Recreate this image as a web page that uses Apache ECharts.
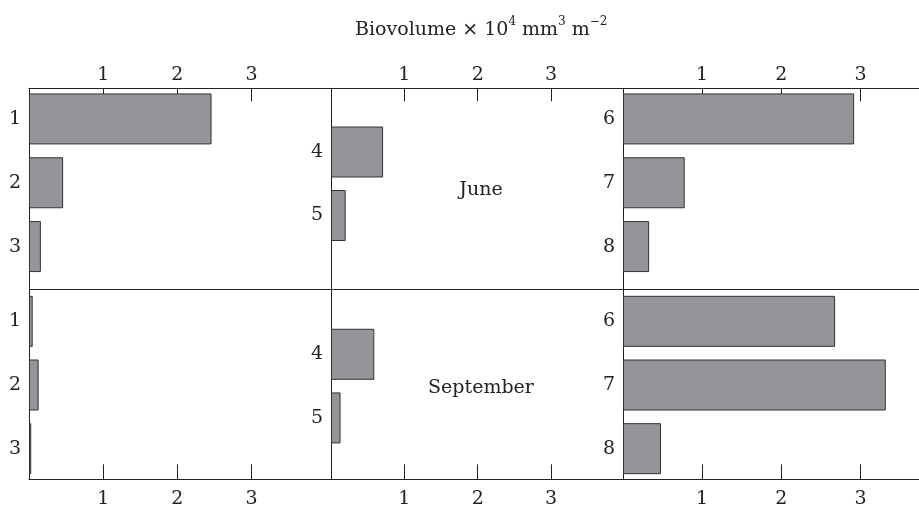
<!DOCTYPE html>
<html>
	<head>
		<meta charset="utf-8">
		<title></title>
		<style>
			html,body{margin:0;padding:0;background:#fff;}
			#main{
				width: 919px;
				height: 505px;
			}
		</style>
	</head>
	<body>
		<div id="main"></div>
		<script src="https://cdn.jsdelivr.net/npm/echarts@6.0.0/dist/echarts.min.js"></script>
		<script>
			// sites of each column (top to bottom)
			var sites1 = ['1', '2', '3'];
			var sites2 = ['4', '5'];
			var sites3 = ['6', '7', '8'];
			// biovolume x 10^4 mm3 m-2
			var june1 = [2.46, 0.46, 0.16];
			var june2 = [0.71, 0.20];
			var june3 = [2.92, 0.78, 0.33];
			var sept1 = [0.05, 0.13, 0.03];
			var sept2 = [0.59, 0.13];
			var sept3 = [2.68, 3.32, 0.48];
			var tickValues = [1, 2, 3];
			var months = ['June', 'September'];

			var font = 'DejaVu Serif';
			var ink = '#222';

			// layout of the three columns
			var cols = [
				{left: 29, width: 302, max: 4.07, sites: sites1, june: june1, sept: sept1},
				{left: 331, width: 292, max: 3.98, sites: sites2, june: june2, sept: sept2},
				{left: 623, width: 300, max: 3.79, sites: sites3, june: june3, sept: sept3}
			];

			var grid = [], xAxis = [], yAxis = [], series = [];
			var lbl = {fontFamily: font, fontSize: 19, color: ink};

			cols.forEach(function (c, i) {
				// frame of the column: top and bottom scales, left line, middle line
				var g = grid.length;
				grid.push({left: c.left, width: c.width, top: 88.3, height: 391, outerBoundsMode: 'none'});
				['top', 'bottom'].forEach(function (pos) {
					xAxis.push({
						type: 'value', gridIndex: g, position: pos, min: 0, max: c.max,
						axisLine: {show: true, lineStyle: {color: ink, width: 1}},
						axisTick: {show: true, inside: true, length: pos === 'top' ? 13 : 15,
							customValues: tickValues, lineStyle: {color: ink}},
						axisLabel: Object.assign({customValues: tickValues, margin: pos === 'top' ? 4 : 10}, lbl),
						splitLine: {show: false}
					});
				});
				yAxis.push({
					type: 'value', gridIndex: g, inverse: true, min: 0, max: 391, interval: 201,
					axisLine: {show: true, lineStyle: {color: ink, width: 1}},
					axisTick: {show: false}, axisLabel: {show: false},
					splitLine: {show: true, lineStyle: {color: ink, width: 1}}
				});

				// the two panels with bars
				var mid = i === 1;
				var cats = mid ? [''].concat(c.sites, ['']) : c.sites;
				[c.june, c.sept].forEach(function (vals, r) {
					var d = grid.length;
					var top = r === 0 ? (mid ? 88.5 : 87) : (mid ? 290.6 : 289.5);
					var h = r === 0 ? (mid ? 190.5 : 191.5) : 191;
					grid.push({left: c.left, width: c.width, top: top, height: h, outerBoundsMode: 'none'});
					xAxis.push({type: 'value', gridIndex: d, min: 0, max: c.max, show: false});
					yAxis.push({
						type: 'category', gridIndex: d, inverse: true, data: cats, boundaryGap: !mid,
						axisLine: {show: false}, axisTick: {show: false}, splitLine: {show: false},
						axisLabel: Object.assign({margin: 8, interval: 0}, lbl)
					});
					series.push({
						type: 'bar', name: months[r] + ' ' + (i + 1),
						xAxisIndex: xAxis.length - 1, yAxisIndex: yAxis.length - 1,
						data: mid ? [null].concat(vals, [null]) : vals,
						barWidth: 51, silent: true,
						itemStyle: {color: '#939598', borderColor: '#333', borderWidth: 1}
					});
				});
			});

			var mychart = echarts.init(document.getElementById('main'));
			var option = {
				animation: false,
				title: {
					text: '{b|Biovolume × 10}{s|4}{b| mm}{s|3}{b| m}{s|−2}',
					left: 350, top: 11,
					textStyle: {
						fontWeight: 'normal',
						rich: {
							b: {fontFamily: font, fontSize: 19, fontWeight: 'normal', color: ink, lineHeight: 24, verticalAlign: 'bottom'},
							s: {fontFamily: font, fontSize: 12, fontWeight: 'normal', color: ink, lineHeight: 12, verticalAlign: 'top'}
						}
					}
				},
				grid: grid,
				xAxis: xAxis,
				yAxis: yAxis,
				series: series,
				graphic: [
					{type: 'text', x: 481, y: 190, silent: true,
						style: {text: months[0], align: 'center', verticalAlign: 'middle', font: '19px ' + font, fill: ink}},
					{type: 'text', x: 481, y: 388, silent: true,
						style: {text: months[1], align: 'center', verticalAlign: 'middle', font: '19px ' + font, fill: ink}}
				]
			};
			mychart.setOption(option);
		</script>
	</body>
</html>
